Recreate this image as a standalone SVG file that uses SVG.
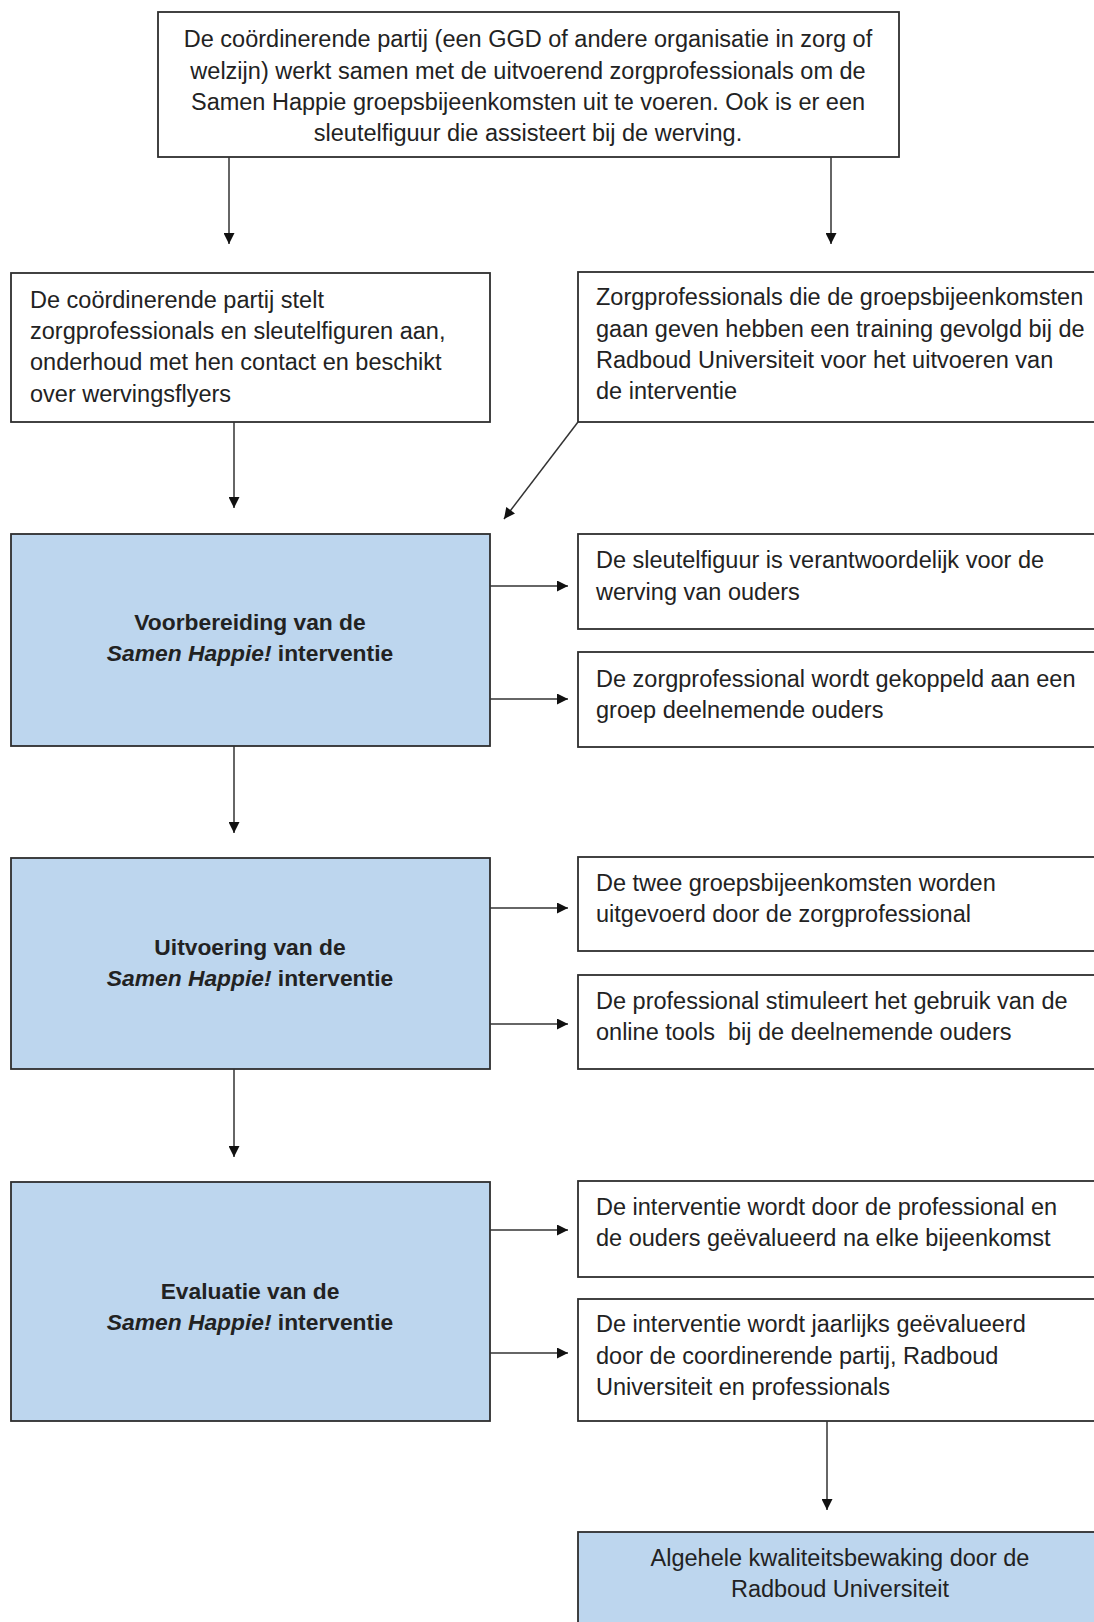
<svg xmlns="http://www.w3.org/2000/svg" width="1094" height="1622" viewBox="0 0 1094 1622">
<defs>
<style>
.box{fill:#ffffff;stroke:#2e2e2e;stroke-width:1.8}
.blue{fill:#bdd6ee;stroke:#2e2e2e;stroke-width:1.8}
text{font-family:"Liberation Sans",Arial,sans-serif;font-size:23.5px;fill:#222222}
.c{text-anchor:middle}
.b{font-weight:bold;font-size:22.8px}
.conn line{stroke:#333333;stroke-width:1.5;marker-end:url(#ah)}
</style>
<marker id="ah" viewBox="0 0 10 10" refX="10" refY="5" markerWidth="12" markerHeight="11" markerUnits="userSpaceOnUse" orient="auto">
<path d="M0,0 L10,5 L0,10 z" fill="#111111"/>
</marker>
</defs>
<rect width="1094" height="1622" fill="#ffffff"/>

<g id="n-top">
<rect class="box" x="158" y="12" width="741" height="145"/>
<text class="c" x="528" y="47">De coördinerende partij (een GGD of andere organisatie in zorg of</text>
<text class="c" x="528" y="79">welzijn) werkt samen met de uitvoerend zorgprofessionals om de</text>
<text class="c" x="528" y="110">Samen Happie groepsbijeenkomsten uit te voeren. Ook is er een</text>
<text class="c" x="528" y="141">sleutelfiguur die assisteert bij de werving.</text>
</g>

<g id="n-l1">
<rect class="box" x="11" y="273" width="479" height="149"/>
<text x="30" y="308">De coördinerende partij stelt</text>
<text x="30" y="339">zorgprofessionals en sleutelfiguren aan,</text>
<text x="30" y="370">onderhoud met hen contact en beschikt</text>
<text x="30" y="402">over wervingsflyers</text>
</g>

<g id="n-r1">
<rect class="box" x="578" y="272" width="530" height="150"/>
<text x="596" y="305">Zorgprofessionals die de groepsbijeenkomsten</text>
<text x="596" y="337">gaan geven hebben een training gevolgd bij de</text>
<text x="596" y="368">Radboud Universiteit voor het uitvoeren van</text>
<text x="596" y="399">de interventie</text>
</g>

<g id="n-voorbereiding">
<rect class="blue" x="11" y="534" width="479" height="212"/>
<text class="c b" x="250" y="630">Voorbereiding van de</text>
<text class="c b" x="250" y="661"><tspan font-style="italic">Samen Happie!</tspan> interventie</text>
</g>

<g id="n-r2">
<rect class="box" x="578" y="534" width="530" height="95"/>
<text x="596" y="568">De sleutelfiguur is verantwoordelijk voor de</text>
<text x="596" y="600">werving van ouders</text>
</g>

<g id="n-r3">
<rect class="box" x="578" y="652" width="530" height="95"/>
<text x="596" y="687">De zorgprofessional wordt gekoppeld aan een</text>
<text x="596" y="718">groep deelnemende ouders</text>
</g>

<g id="n-uitvoering">
<rect class="blue" x="11" y="858" width="479" height="211"/>
<text class="c b" x="250" y="955">Uitvoering van de</text>
<text class="c b" x="250" y="986"><tspan font-style="italic">Samen Happie!</tspan> interventie</text>
</g>

<g id="n-r4">
<rect class="box" x="578" y="857" width="530" height="94"/>
<text x="596" y="891">De twee groepsbijeenkomsten worden</text>
<text x="596" y="922">uitgevoerd door de zorgprofessional</text>
</g>

<g id="n-r5">
<rect class="box" x="578" y="975" width="530" height="94"/>
<text x="596" y="1009">De professional stimuleert het gebruik van de</text>
<text x="596" y="1040" xml:space="preserve">online tools  bij de deelnemende ouders</text>
</g>

<g id="n-evaluatie">
<rect class="blue" x="11" y="1182" width="479" height="239"/>
<text class="c b" x="250" y="1299">Evaluatie van de</text>
<text class="c b" x="250" y="1330"><tspan font-style="italic">Samen Happie!</tspan> interventie</text>
</g>

<g id="n-r6">
<rect class="box" x="578" y="1181" width="530" height="96"/>
<text x="596" y="1215">De interventie wordt door de professional en</text>
<text x="596" y="1246">de ouders geëvalueerd na elke bijeenkomst</text>
</g>

<g id="n-r7">
<rect class="box" x="578" y="1299" width="530" height="122"/>
<text x="596" y="1332">De interventie wordt jaarlijks geëvalueerd</text>
<text x="596" y="1364">door de coordinerende partij, Radboud</text>
<text x="596" y="1395">Universiteit en professionals</text>
</g>

<g id="n-final">
<rect class="blue" x="578" y="1532" width="530" height="100"/>
<text class="c" x="840" y="1566">Algehele kwaliteitsbewaking door de</text>
<text class="c" x="840" y="1597">Radboud Universiteit</text>
</g>

<g id="connectors" class="conn">
<line x1="229" y1="157" x2="229" y2="244"/>
<line x1="831" y1="157" x2="831" y2="244"/>
<line x1="234" y1="422" x2="234" y2="508"/>
<line x1="578" y1="422" x2="504" y2="519"/>
<line x1="490" y1="586" x2="568" y2="586"/>
<line x1="490" y1="699" x2="568" y2="699"/>
<line x1="234" y1="746" x2="234" y2="833"/>
<line x1="490" y1="908" x2="568" y2="908"/>
<line x1="490" y1="1024" x2="568" y2="1024"/>
<line x1="234" y1="1069" x2="234" y2="1157"/>
<line x1="490" y1="1230" x2="568" y2="1230"/>
<line x1="490" y1="1353" x2="568" y2="1353"/>
<line x1="827" y1="1421" x2="827" y2="1510"/>
</g>
</svg>
